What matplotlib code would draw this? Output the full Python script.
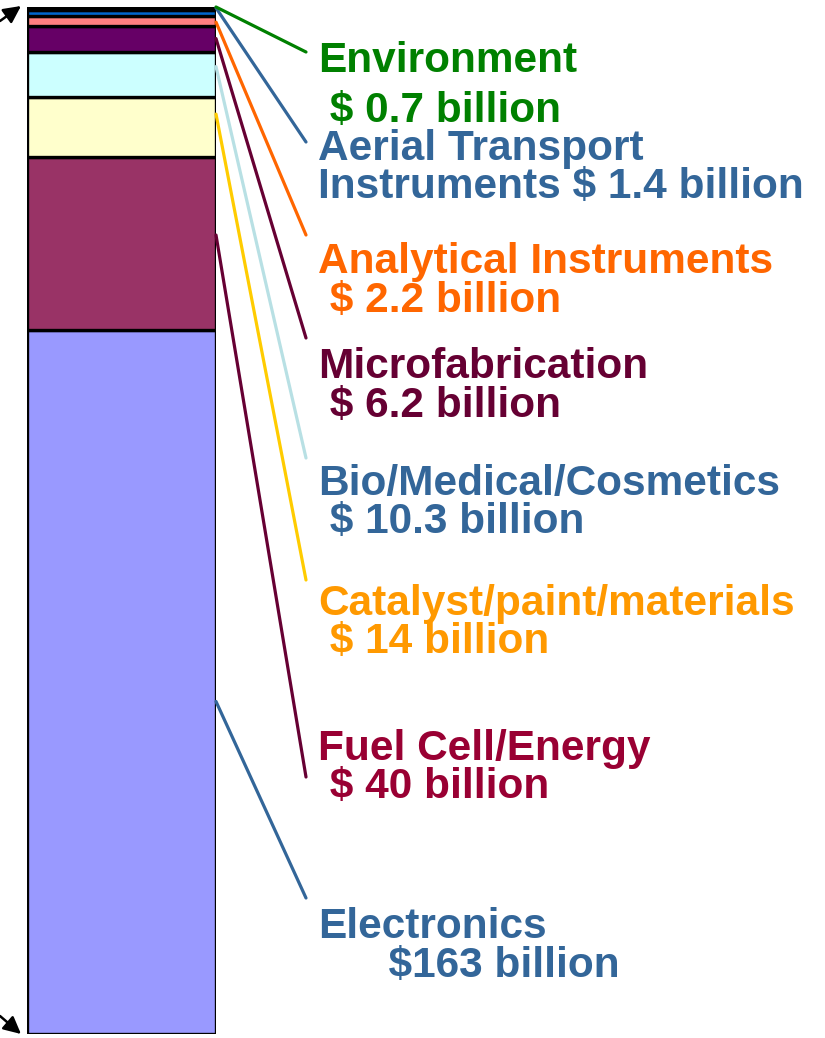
# Nanotechnology market by sector, stacked single bar

import numpy as np
import matplotlib.pyplot as plt

plt.rcParams['font.family'] = ['Liberation Sans', 'DejaVu Sans']

# bottom to top
sectors = ['Electronics', 'Fuel Cell/Energy', 'Catalyst/paint/materials',
           'Bio/Medical/Cosmetics', 'Microfabrication', 'Analytical Instruments',
           'Aerial Transport Instruments', 'Environment']
values = [163, 40, 14, 10.3, 6.2, 2.2, 1.4, 0.7]
fill_colors = ['#9999FF', '#993366', '#FFFFCC', '#CCFFFF', '#660066',
               '#FF8080', '#0066CC', '#008000']

# label text lines
label_lines = [
    ['Electronics', '      $163 billion'],
    ['Fuel Cell/Energy', ' $ 40 billion'],
    ['Catalyst/paint/materials', ' $ 14 billion'],
    ['Bio/Medical/Cosmetics', ' $ 10.3 billion'],
    ['Microfabrication', ' $ 6.2 billion'],
    ['Analytical Instruments', ' $ 2.2 billion'],
    ['Aerial Transport', 'Instruments $ 1.4 billion'],
    ['Environment', ' $ 0.7 billion'],
]
text_colors = ['#336699', '#990033', '#FF9900', '#336699', '#660033',
               '#FF6600', '#336699', '#008000']
line_colors = ['#336699', '#660033', '#FFCC00', '#B8E0E4', '#660033',
               '#FF6600', '#336699', '#008000']

# layout (pixels from top of image)
W, H = 825, 1038
baselines = [(938, 977), (760, 798), (615, 653), (495, 533), (378, 417),
             (273, 312), (160, 198), (72, 122)]
leader_end = [898, 777, 580, 458, 338, 235, 142, 52]
leader_start = [77, 185, 213, 224, 230.5, 234.3, 237.6, 237.8]  # data units

fig = plt.figure(figsize=(W / 100, H / 100), dpi=100)
ax = fig.add_axes([27 / W, (H - 1034) / H, 189 / W, 1027 / H])

bottoms = np.concatenate([[0], np.cumsum(values)[:-1]])
ax.bar(0, values, bottom=bottoms, width=1, color=fill_colors,
       edgecolor='black', linewidth=2.4)
ax.set_xlim(-0.5, 0.5)
ax.set_ylim(0, sum(values))
ax.axis('off')


def fig_px(x, y_top):
    return (x, H - y_top)


for i in range(len(sectors)):
    ax.annotate('', xy=(1.0, leader_start[i]), xycoords=('axes fraction', 'data'),
                xytext=fig_px(306, leader_end[i]), textcoords='figure pixels',
                arrowprops=dict(arrowstyle='-', color=line_colors[i], lw=2.3,
                                shrinkA=0, shrinkB=0))
    for line, yb in zip(label_lines[i], baselines[i]):
        fig.text(318 / W, 1 - yb / H, line, color=text_colors[i],
                 fontsize=30.5, fontweight='bold', va='baseline', ha='left')

# little arrows at the left of the bar
ax.annotate('', xy=fig_px(21, 6), xycoords='figure pixels',
            xytext=fig_px(0, 21), textcoords='figure pixels',
            arrowprops=dict(arrowstyle='-|>', color='black', lw=1.8,
                            mutation_scale=26, shrinkA=0, shrinkB=0))
ax.annotate('', xy=fig_px(21, 1034), xycoords='figure pixels',
            xytext=fig_px(0, 1016), textcoords='figure pixels',
            arrowprops=dict(arrowstyle='-|>', color='black', lw=1.8,
                            mutation_scale=26, shrinkA=0, shrinkB=0))

fig.savefig('out.png', dpi=100)
